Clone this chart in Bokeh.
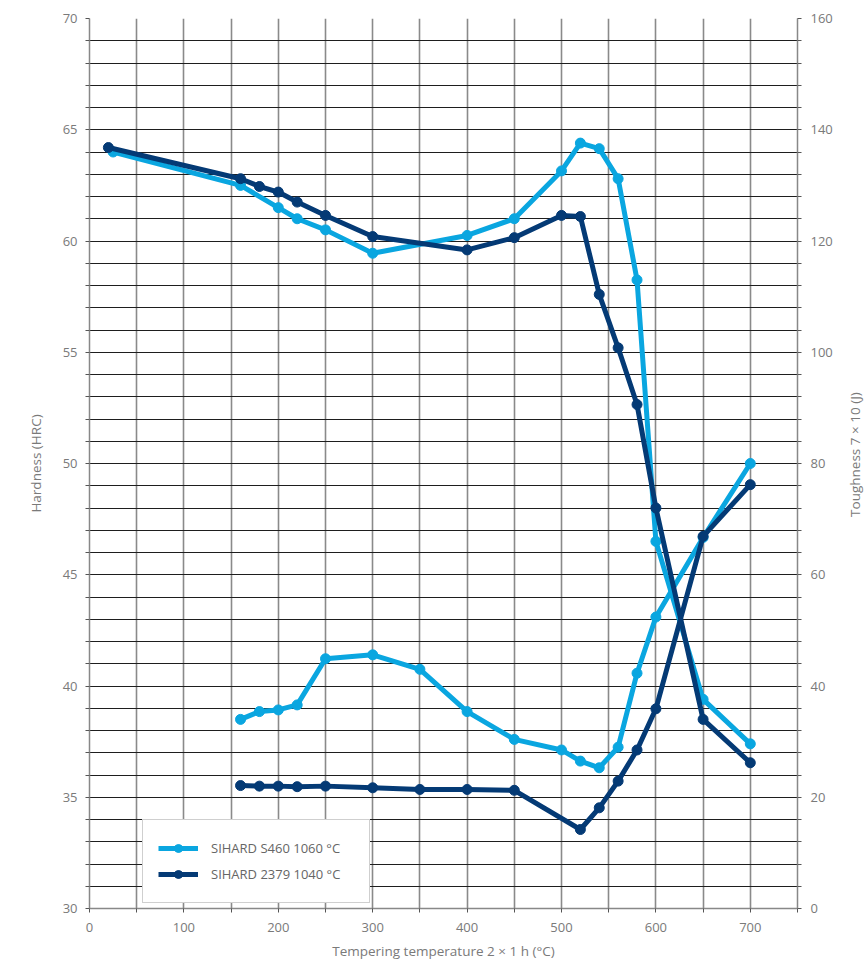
import math
from bokeh.plotting import figure
from bokeh.layouts import row
from bokeh.models import Range1d, LinearAxis, FixedTicker, Legend, LegendItem, Label
from bokeh.embed import file_html
from bokeh.resources import INLINE

# ---- data ----
x_ticks = list(range(0, 751, 50))
hrc_ticks = list(range(30, 71))
tough_ticks = list(range(0, 161, 4))

# Hardness (left axis, HRC)
temp_h_s460 = [25, 160, 200, 220, 250, 300, 400, 450, 500, 520, 540, 560, 580, 600, 650, 700]
hrc_s460 = [64.0, 62.5, 61.5, 61.0, 60.5, 59.45, 60.25, 61.0, 63.15, 64.4, 64.15, 62.8, 58.25, 46.5, 39.4, 37.4]
temp_h_2379 = [20, 160, 180, 200, 220, 250, 300, 400, 450, 500, 520, 540, 560, 580, 600, 650, 700]
hrc_2379 = [64.2, 62.8, 62.45, 62.2, 61.75, 61.15, 60.2, 59.6, 60.15, 61.15, 61.1, 57.6, 55.2, 52.65, 48.0, 38.5, 36.55]

# Toughness (right axis, J)
temp_t_s460 = [160, 180, 200, 220, 250, 300, 350, 400, 450, 500, 520, 540, 560, 580, 600, 650, 700]
tough_s460 = [34.0, 35.4, 35.7, 36.6, 44.9, 45.6, 43.0, 35.4, 30.4, 28.5, 26.5, 25.3, 29.0, 42.3, 52.4, 66.7, 80.0]
temp_t_2379 = [160, 180, 200, 220, 250, 300, 350, 400, 450, 520, 540, 560, 580, 600, 650, 700]
tough_2379 = [22.1, 22.0, 22.0, 21.9, 22.0, 21.7, 21.4, 21.4, 21.25, 14.2, 18.1, 22.9, 28.5, 35.9, 66.9, 76.2]

series_names = ["SIHARD S460 1060 \u00b0C", "SIHARD 2379 1040 \u00b0C"]
x_title = "Tempering temperature 2 \u00d7 1 h (\u00b0C)"
y_title = "Hardness (HRC)"
y2_title = "Toughness  7 \u00d7 10 (J)"

# ---- styles ----
LIGHT = "#0AA6E0"
DARK = "#043A75"
FONT = "Open Sans"
TXT = "#7a7a7a"
TITLE_SIZE = "13.5px"

p = figure(width=840, height=962, output_backend="svg", toolbar_location=None,
           x_range=Range1d(0, 750), y_range=Range1d(30, 70),
           min_border_left=89, min_border_right=43, min_border_top=18, min_border_bottom=53)
p.extra_y_ranges = {"tough": Range1d(0, 160)}
p.outline_line_color = None
p.background_fill_color = "white"

# x axis
xa = p.xaxis[0]
xa.ticker = FixedTicker(ticks=x_ticks)
xa.major_label_overrides = {t: "" for t in x_ticks if t % 100 != 0}
xa.axis_label = x_title

# left axis
ya = p.yaxis[0]
ya.ticker = FixedTicker(ticks=hrc_ticks)
ya.major_label_overrides = {t: "" for t in hrc_ticks if t % 5 != 0}
ya.axis_label = y_title

# right axis
ra = LinearAxis(y_range_name="tough", ticker=FixedTicker(ticks=tough_ticks))
ra.major_label_overrides = {t: "" for t in tough_ticks if t % 20 != 0}
p.add_layout(ra, "right")

for ax in [xa, ya, ra]:
    ax.axis_line_color = "#888888"
    ax.axis_line_width = 1.5
    ax.major_tick_line_color = "#555555"
    ax.major_tick_out = 4
    ax.major_tick_in = 0
    ax.minor_tick_line_color = None
    ax.major_label_text_font = FONT
    ax.major_label_text_font_size = "13px"
    ax.major_label_text_color = TXT
    ax.axis_label_text_font = FONT
    ax.axis_label_text_font_size = TITLE_SIZE
    ax.axis_label_text_font_style = "normal"
    ax.axis_label_text_color = TXT

xa.major_label_standoff = 10
xa.axis_label_standoff = 7
ya.major_label_standoff = 8
ya.axis_label_standoff = 15
ra.major_label_standoff = 9

p.xgrid.grid_line_color = "#8a8a8a"
p.xgrid.grid_line_width = 1.6
p.ygrid.grid_line_color = "#1e1e1e"
p.ygrid.grid_line_width = 1.1

# ---- series ----
lw = 5
ms = 10

l1 = p.line(temp_h_s460, hrc_s460, line_color=LIGHT, line_width=lw)
s1 = p.scatter(temp_h_s460, hrc_s460, size=ms, fill_color=LIGHT, line_color=LIGHT)
p.line(temp_t_s460, tough_s460, line_color=LIGHT, line_width=lw, y_range_name="tough")
p.scatter(temp_t_s460, tough_s460, size=ms, fill_color=LIGHT, line_color=LIGHT, y_range_name="tough")

l2 = p.line(temp_h_2379, hrc_2379, line_color=DARK, line_width=lw)
s2 = p.scatter(temp_h_2379, hrc_2379, size=ms, fill_color=DARK, line_color=DARK)
p.line(temp_t_2379, tough_2379, line_color=DARK, line_width=lw, y_range_name="tough")
p.scatter(temp_t_2379, tough_2379, size=ms, fill_color=DARK, line_color=DARK, y_range_name="tough")

legend = Legend(items=[LegendItem(label=series_names[0], renderers=[l1, s1]),
                       LegendItem(label=series_names[1], renderers=[l2, s2])],
                location=(53, 5))
legend.label_text_font = FONT
legend.label_text_font_size = "13px"
legend.label_text_color = "#666666"
legend.glyph_width = 40
legend.glyph_height = 20
legend.label_standoff = 13
legend.label_height = 26
legend.label_width = 143
legend.spacing = 0
legend.padding = 15
legend.border_line_color = "#a0a0a0"
legend.border_line_width = 1.5
legend.background_fill_color = "white"
legend.background_fill_alpha = 1
p.add_layout(legend, "center")

# narrow strip holding the right-hand axis title (reads bottom-to-top)
q = figure(width=28, height=962, output_backend="svg", toolbar_location=None,
           x_range=Range1d(0, 1), y_range=Range1d(0, 1),
           x_axis_type=None, y_axis_type=None,
           min_border_left=0, min_border_right=0, min_border_top=0, min_border_bottom=0)
q.outline_line_color = None
q.add_layout(Label(x=0.5, y=0.512, text=y2_title, angle=math.pi / 2,
                   text_align="center", text_baseline="middle",
                   text_font=FONT, text_font_size=TITLE_SIZE, text_color=TXT))

layout = row(p, q, spacing=0)
open("out.html", "w").write(file_html(layout, INLINE))
